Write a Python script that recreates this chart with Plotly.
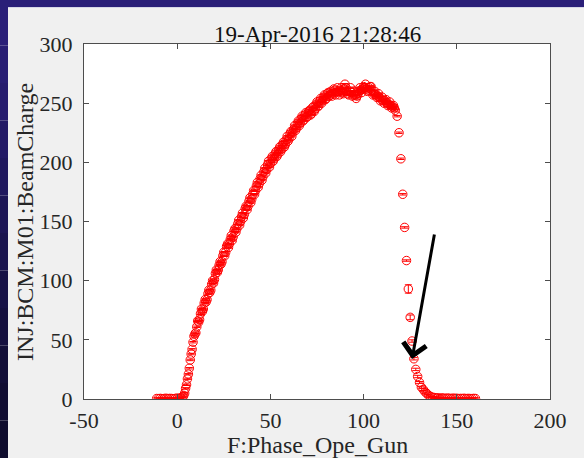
import plotly.graph_objects as go

# ---------------- data ----------------
phase = [
    -11, -10, -9, -8, -7, -6, -5, -4, -3, -2, -1, 0, 1, 2,
    3, 4, 5, 6, 7, 8, 9, 10, 11, 12, 13, 14, 15, 16, 17, 18, 19, 20,
    21, 22, 23, 24, 25, 26, 27, 28, 29, 30, 31, 32, 33, 34, 35, 36, 37, 38,
    39, 40, 41, 42, 43, 44, 45, 46, 47, 48, 49, 50, 51, 52, 53, 54, 55, 56,
    57, 58, 59, 60, 61, 62, 63, 64, 65, 66, 67, 68, 69, 70, 71, 72, 73, 74,
    75, 76, 77, 78, 79, 80, 81, 82, 83, 84, 85, 86, 87, 88, 89, 90, 91, 92,
    93, 94, 95, 96, 97, 98, 99, 100, 101, 102, 103, 104, 105, 106, 107, 108,
    109, 110, 111, 112, 113, 114, 115, 116, 117, 118, 119, 120, 121, 122,
    123, 124, 125, 126, 127, 128, 129, 130, 131, 132, 133, 134, 135, 136,
    137, 138, 139, 140, 141, 142, 143, 144, 145, 146, 147, 148, 149, 150,
    151, 152, 153, 154, 155, 156, 157, 158, 159, 160,
]
charge = [
    0.4, 0.3, 0.5, 0.2, 0.4, 0.6, 0.3, 0.5, 0.4, 0.2, 0.5, 0.7, 0.6, 1.0,
    1.8, 5, 12, 21, 33, 42, 53, 56, 66, 67, 76, 76, 84, 84, 92, 92, 100, 101,
    109, 109, 116, 116, 124, 124, 131, 131, 138, 137, 144, 144, 151, 150, 157, 156, 163, 163,
    170, 169, 176, 176, 183, 182, 189, 188, 195, 194, 201, 199, 205, 203, 209, 207, 213, 211,
    217, 215, 222, 220, 226, 225, 231, 229, 235, 233, 239, 236, 242, 239, 244, 241, 247, 245,
    251, 248, 254, 252, 257, 254, 259, 257, 256, 262, 257, 263, 257, 263, 258, 266, 260, 257,
    263, 256, 260, 254, 258, 263, 259, 264, 266, 260, 263, 264, 257, 260, 255, 258,
    252, 255, 250, 253, 248, 251, 246, 248, 244, 239, 225, 203, 173, 145,
    117, 93, 69, 49, 34, 25, 19, 14, 10, 8, 6, 4.5, 3, 2,
    1.5, 1.2, 0.8, 1.0, 0.6, 0.9, 0.7, 0.5, 0.8, 0.6, 0.4, 0.7, 0.5, 0.6,
    0.3, 0.5, 0.4, 0.6, 0.3, 0.5, 0.4, 0.3, 0.5, 0.4,
]
charge_err = [0.6] * 135 + [3.5, 2.0, 1.0, 1.0, 1.0, 1.0, 0.8, 0.8, 0.8, 0.8] + [0.6] * 27
charge_err = charge_err[:len(charge)]

# interleaved second pass of the scan (rise and plateau)
phase_rep = [
    3.5, 4.5, 5.5, 6.5, 7.5, 8.5, 9.5, 10.5, 11.5, 12.5, 13.5, 14.5, 15.5,
    16.5, 17.5, 18.5, 19.5, 20.5, 21.5, 22.5, 23.5, 24.5, 25.5, 26.5, 27.5,
    28.5, 29.5, 30.5, 31.5, 32.5, 33.5, 34.5, 35.5, 36.5, 37.5, 38.5, 39.5,
    40.5, 41.5, 42.5, 43.5, 44.5, 45.5, 46.5, 47.5, 48.5, 49.5, 50.5, 51.5,
    52.5, 53.5, 54.5, 55.5, 56.5, 57.5, 58.5, 59.5, 60.5, 61.5, 62.5, 63.5,
    64.5, 65.5, 66.5, 67.5, 68.5, 69.5, 70.5, 71.5, 72.5, 73.5, 74.5, 75.5,
    76.5, 77.5, 78.5, 79.5, 80.5, 81.5, 82.5, 83.5, 84.5, 85.5, 86.5, 87.5,
    88.5, 89.5, 90.5, 91.5, 92.5, 93.5, 94.5, 95.5, 96.5, 97.5, 98.5, 99.5,
    100.5, 101.5, 102.5, 103.5, 104.5, 105.5, 106.5, 107.5, 108.5, 109.5,
    110.5, 111.5, 112.5, 113.5, 114.5, 115.5, 116.5,
]
charge_rep = [
    3, 9, 17, 26, 38, 48, 55, 61, 65, 72, 74, 81, 82,
    89, 90, 97, 98, 106, 107, 113, 114, 121, 121, 129, 128,
    135, 134, 142, 141, 148, 147, 154, 153, 161, 160, 167, 166,
    173, 173, 180, 179, 186, 185, 192, 191, 198, 196, 203, 201,
    207, 205, 211, 209, 215, 213, 219, 218, 224, 222, 228, 227,
    233, 231, 237, 235, 240, 238, 243, 240, 246, 243, 249, 247,
    252, 250, 255, 253, 258, 256, 260, 258, 261, 259, 260, 261,
    259, 262, 263, 258, 260, 259, 257, 257, 256, 260, 261, 262,
    263, 262, 261, 264, 261, 258, 257, 256, 255, 253,
    252, 252, 250, 249, 248, 247, 246,
]
charge_rep_err = [0.6] * len(charge_rep)

x_ticks = [-50, 0, 50, 100, 150, 200]
y_ticks = [0, 50, 100, 150, 200, 250, 300]
title_text = "19-Apr-2016 21:28:46"
x_label = "F:Phase_Ope_Gun"
y_label = "INJ:BCM:M01:BeamCharge"

# ---------------- layout geometry ----------------
W, H = 584, 458
L, R, T, B = 84, 34, 44, 59
PW, PH = W - L - R, H - T - B


def px_x(p):
    return (p - L) / PW


def px_y(p):
    return (H - B - p) / PH


FONT = "Liberation Serif, Times New Roman, serif"
TXT = "#262626"
RED = "rgb(255,0,0)"

fig = go.Figure()
for xs, ys, es in [(phase, charge, charge_err),
                   (phase_rep, charge_rep, charge_rep_err)]:
    fig.add_trace(go.Scatter(
        x=xs, y=ys, mode="markers",
        marker=dict(symbol="circle-open", size=8.5, color=RED,
                    line=dict(width=1, color=RED)),
        error_y=dict(type="data", array=es, visible=True,
                     color=RED, thickness=1, width=3.5),
        showlegend=False,
    ))

shapes = []
# dark slide background strips (top and left, left one with gradient)
shapes.append(dict(type="rect", xref="paper", yref="paper",
                   x0=px_x(0), x1=px_x(W), y0=px_y(8), y1=px_y(0),
                   fillcolor="#2a1f78", line=dict(width=0), layer="above"))
bands = ["#2a1f78", "#281e74", "#261c6e", "#231a66", "#20185e", "#1d1656",
         "#1a144e", "#171246", "#15103f", "#130f38", "#110d32", "#0f0c2d"]
n = len(bands)
for i, c in enumerate(bands):
    shapes.append(dict(type="rect", xref="paper", yref="paper",
                       x0=px_x(0), x1=px_x(8),
                       y0=px_y(8 + (H - 8) * (i + 1) / n),
                       y1=px_y(8 + (H - 8) * i / n),
                       fillcolor=c, line=dict(width=0), layer="above"))
# thin pale edge of the figure window
shapes.append(dict(type="line", xref="paper", yref="paper",
                   x0=px_x(8), x1=px_x(W), y0=px_y(7.5), y1=px_y(7.5),
                   line=dict(color="#d6d6e6", width=1), layer="above"))

annotations = [
    dict(text=title_text, xref="paper", yref="paper", x=0.5, y=px_y(34),
         xanchor="center", yanchor="middle", showarrow=False,
         font=dict(family=FONT, size=23, color="#111111")),
    dict(text=x_label, xref="paper", yref="paper", x=0.5, y=px_y(445),
         xanchor="center", yanchor="middle", showarrow=False,
         font=dict(family=FONT, size=24, color=TXT)),
    dict(text=y_label, xref="paper", yref="paper", x=px_x(25), y=px_y(222),
         xanchor="center", yanchor="middle", showarrow=False, textangle=-90,
         font=dict(family=FONT, size=24, color=TXT)),
    dict(text="", x=126, y=33.8, xref="x", yref="y", showarrow=True,
         ax=22.6, ay=-126, arrowhead=4, arrowwidth=3, arrowsize=1.5,
         arrowcolor="black", standoff=0),
]

axis_common = dict(
    showline=True, linecolor="#4d4d4d", linewidth=1, mirror="ticks",
    ticks="inside", ticklen=5, tickwidth=1, tickcolor="#4d4d4d",
    showgrid=False, zeroline=False,
    tickfont=dict(family=FONT, size=22, color=TXT),
)

fig.update_layout(
    width=W, height=H, autosize=False,
    margin=dict(l=L, r=R, t=T, b=B, pad=0),
    paper_bgcolor="#f0f0f0", plot_bgcolor="white",
    xaxis=dict(range=[-50, 200], tickvals=x_ticks,
               ticktext=[str(v) for v in x_ticks], ticklabelstandoff=2,
               **axis_common),
    yaxis=dict(range=[0, 300], tickvals=y_ticks,
               ticktext=[str(v) for v in y_ticks], ticklabelstandoff=6,
               **axis_common),
    shapes=shapes, annotations=annotations,
)

fig.write_html(
    "out.html",
    config={"displayModeBar": False},
    post_script="document.body.style.margin='0px';"
                "document.body.style.overflow='hidden';",
)
